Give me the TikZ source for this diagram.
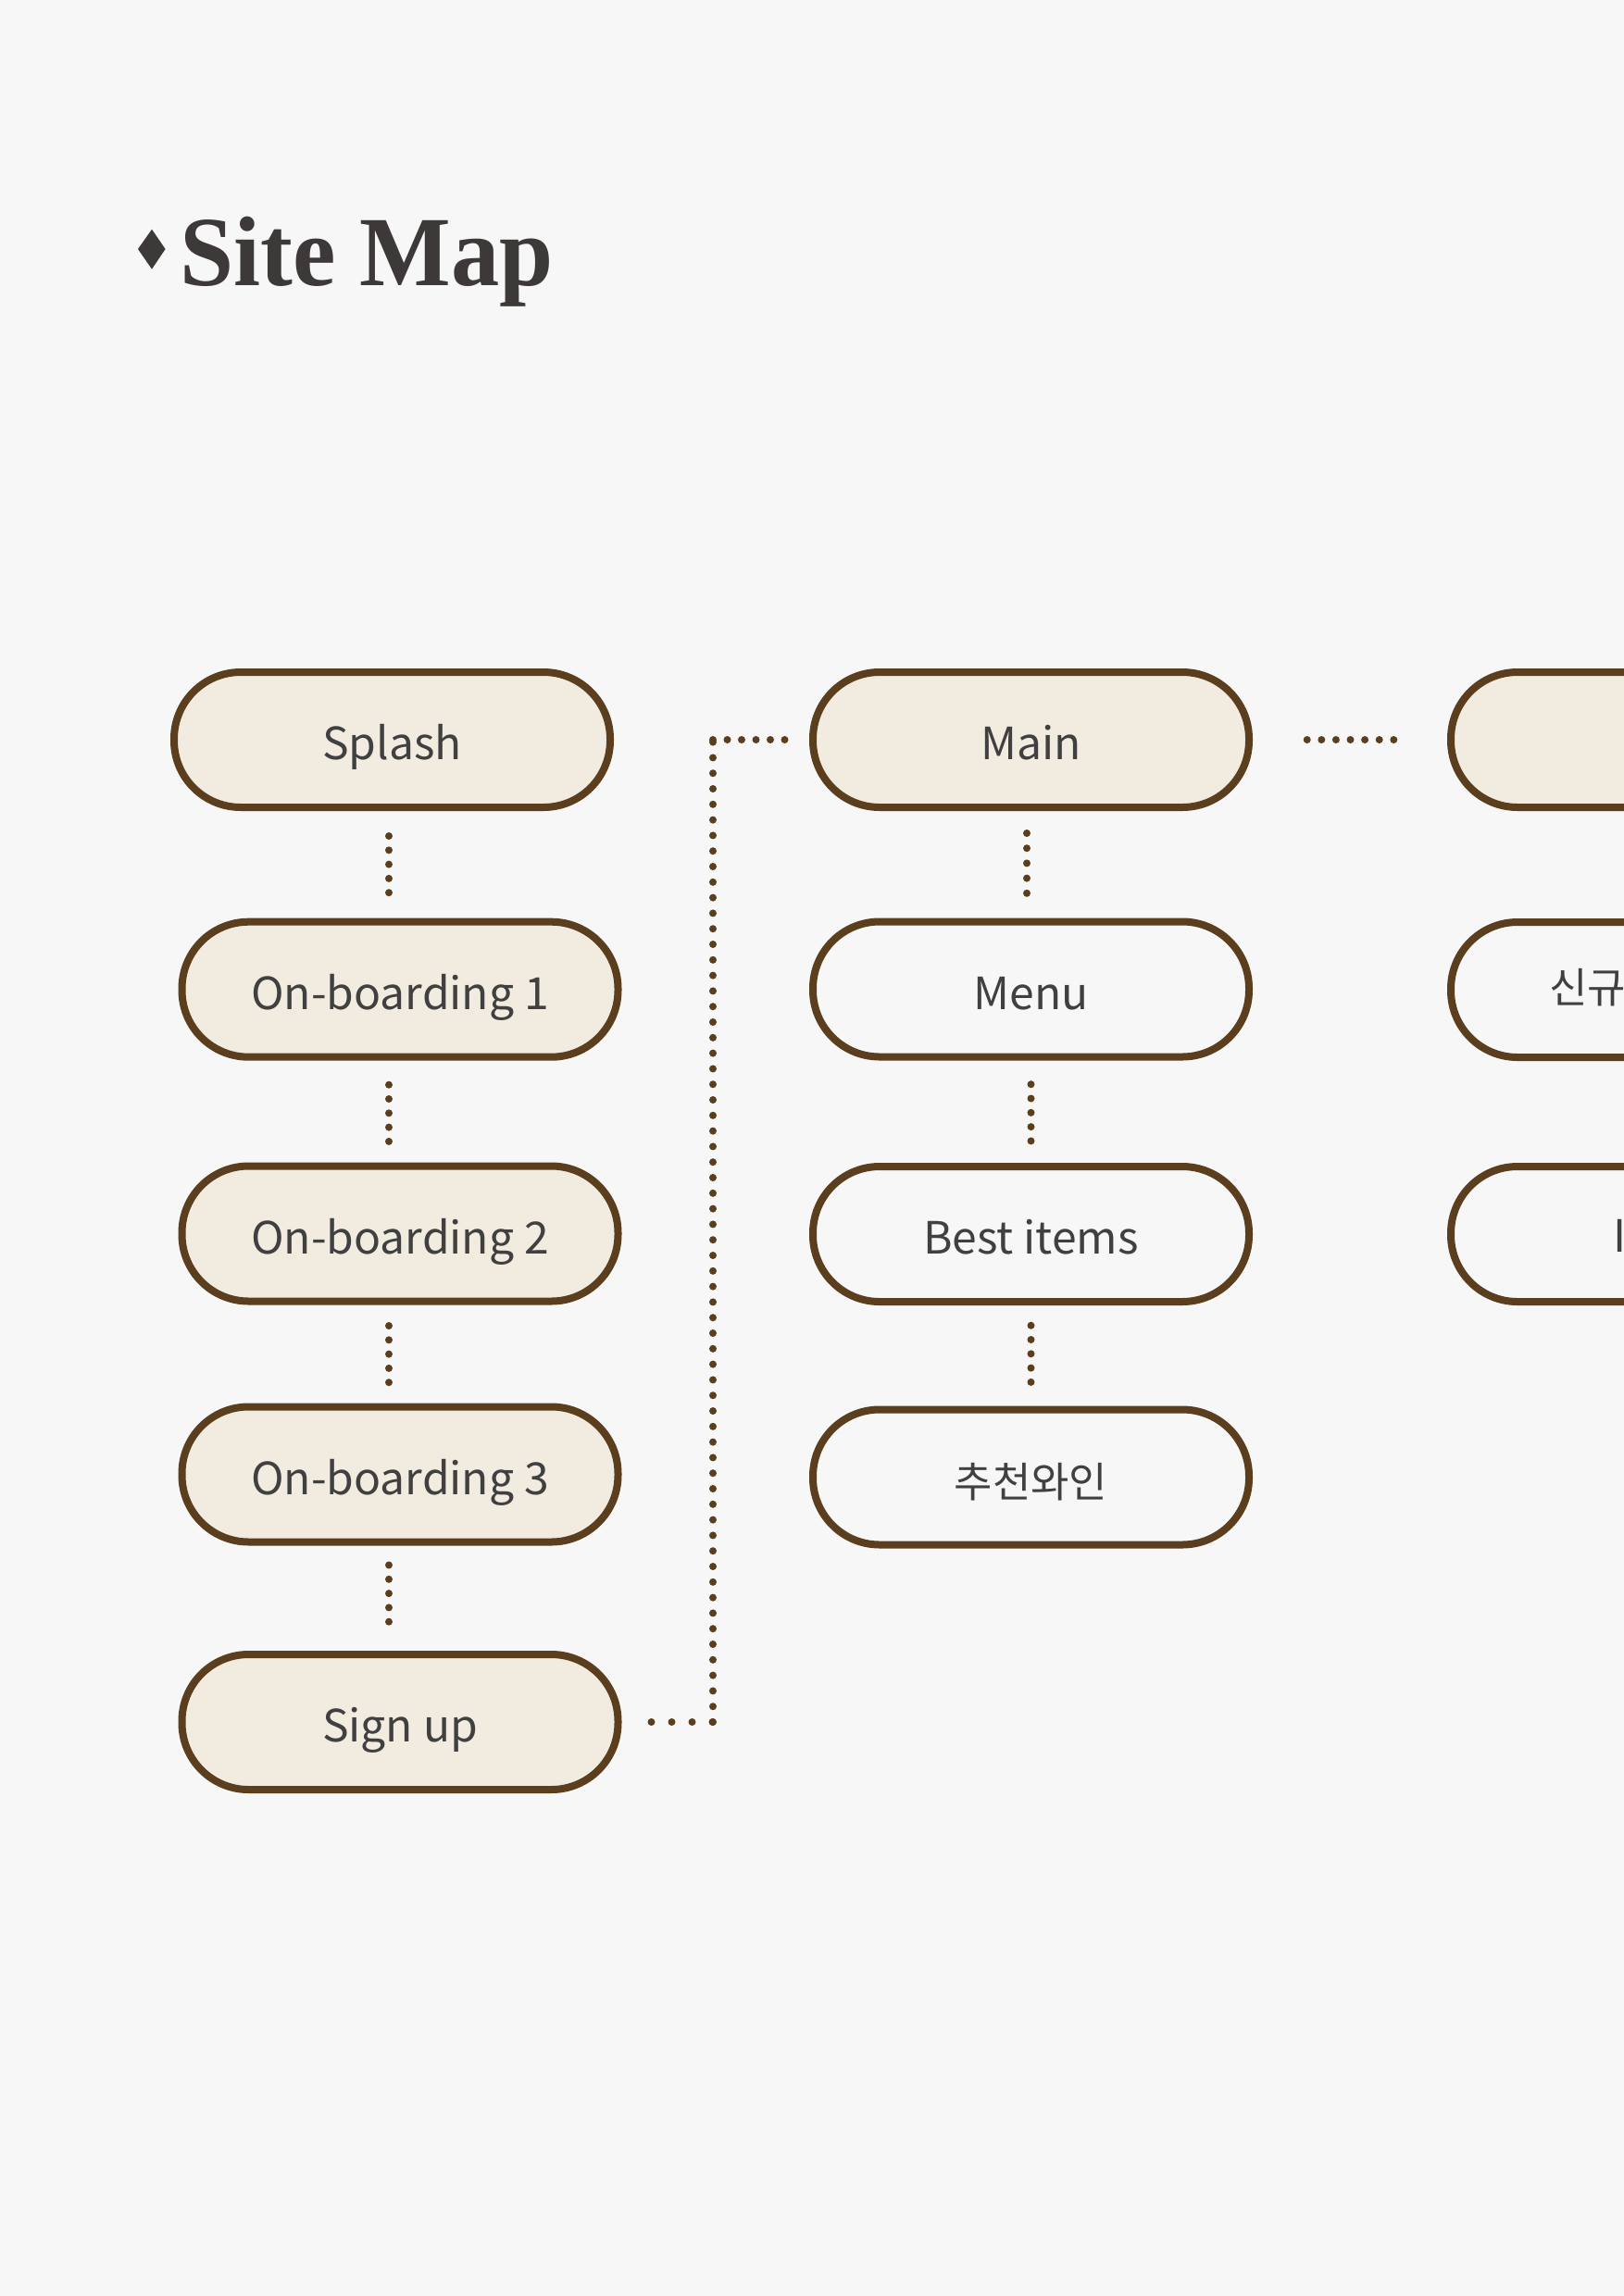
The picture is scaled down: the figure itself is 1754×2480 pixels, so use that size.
\documentclass[tikz,border=0pt]{standalone}
\usepackage{fontspec}
\usepackage{graphicx}
\newfontfamily\labelfont{Noto Sans CJK KR}
\newfontfamily\titlefont{Liberation Serif}
\usetikzlibrary{calc}
\definecolor{bgc}{HTML}{F7F7F7}
\definecolor{sitebrown}{HTML}{5A3E1D}
\definecolor{cream}{HTML}{F2ECE0}
\definecolor{txt}{HTML}{404040}
\definecolor{titlec}{HTML}{3D3939}
\begin{document}
\begin{tikzpicture}[x=0.5pt,y=-0.5pt,
  box/.style={draw=sitebrown, line width=4pt, rounded corners=36pt,
    minimum width=235.5pt, minimum height=73pt, inner sep=0pt,
    font=\labelfont\fontsize{24}{28}\selectfont, text=txt,
    text height=22pt, text depth=0.4pt},
  fillbox/.style={box, fill=cream},
  whitebox/.style={box, fill=bgc},
  korean/.style={font=\labelfont\fontsize{22.5}{26}\selectfont},
  dotline/.style={draw=sitebrown, line width=4pt, line cap=round,
    dash pattern=on 0pt off #1},
  dotline/.default=7.65pt,
  plainlbl/.style={inner sep=0pt, text=txt, anchor=west}
]
\useasboundingbox (0,0) rectangle (1754,2480);
\fill[bgc] (0,0) rectangle (1754,2480);
\clip (0,0) rectangle (1754,2480);

% title
\fill[titlec] (164,247.7) -- (178.6,269) -- (164,290.7) -- (149,269) -- cycle;
\node[anchor=base west, inner sep=0pt, text=titlec,
  font=\titlefont\bfseries\fontsize{53.6}{60}\selectfont] (title) at (194,308.3)
  {\scalebox{0.975}[1]{Site Map}};

% left column
\node[fillbox] (splash) at (423.5,799) {Splash};
\node[fillbox] (ob1) at (432,1068.7) {On-boarding 1};
\node[fillbox] (ob2) at (432,1332.5) {On-boarding 2};
\node[fillbox] (ob3) at (432,1592.5) {On-boarding 3};
\node[fillbox] (su) at (432,1860) {Sign up};

% middle column
\node[fillbox] (main) at (1113.5,799) {Main};
\node[whitebox] (menu) at (1113.5,1068.5) {Menu};
\node[whitebox] (best) at (1113.5,1333) {Best items};
\node[whitebox, korean] (rec) at (1113.5,1595.5) {추천와인};

% right column (cut by the page edge)
\node[fillbox] (r1) at (1802.5,799) {};
\node[whitebox] (r2) at (1802.5,1069) {};
\node[whitebox] (r3) at (1802.5,1333) {};
\node[plainlbl, korean] (r2t) at (1673,1066.7) {신규};
\node[plainlbl, font=\labelfont\fontsize{24}{28}\selectfont] (r3t) at (1742.5,1335) {I};

% connectors, left column
\draw[dotline, shorten <=13.5pt, shorten >=13.35pt]
  ($(splash.south)+(-3.5,0)$) -- ($(ob1.north)+(-12,0)$);
\draw[dotline, shorten <=13pt, shorten >=11pt]
  ($(ob1.south)+(-12,0)$) -- ($(ob2.north)+(-12,0)$);
\draw[dotline, shorten <=11.25pt, shorten >=10.75pt]
  ($(ob2.south)+(-12,0)$) -- ($(ob3.north)+(-12,0)$);
\draw[dotline, shorten <=10.5pt, shorten >=15pt]
  ($(ob3.south)+(-12,0)$) -- ($(su.north)+(-12,0)$);

% connectors, middle column
\draw[dotline=8.1pt, shorten <=12pt, shorten >=13.25pt]
  ($(main.south)+(-4.5,0)$) -- ($(menu.north)+(-4.5,0)$);
\draw[dotline, shorten <=12.85pt, shorten >=11.25pt]
  (menu.south) -- (best.north);
\draw[dotline, shorten <=10.85pt, shorten >=12.1pt]
  (best.south) -- (rec.north);

% main -> right column
\draw[dotline=7.8pt, shorten <=29.35pt, shorten >=28.65pt] (main.east) -- (r1.west);

% sign up -> main
\coordinate (cx) at (770,0);
\coordinate (c1) at (su.east -| cx);
\coordinate (c2) at (main.west -| cx);
\draw[dotline=11pt, shorten <=16pt] (su.east) -- (c1);
\draw[dotline=8.4pt] (c1) -- (c2);
\draw[dotline=7.75pt, shorten >=13pt] (c2) -- (main.west);
\end{tikzpicture}
\end{document}
